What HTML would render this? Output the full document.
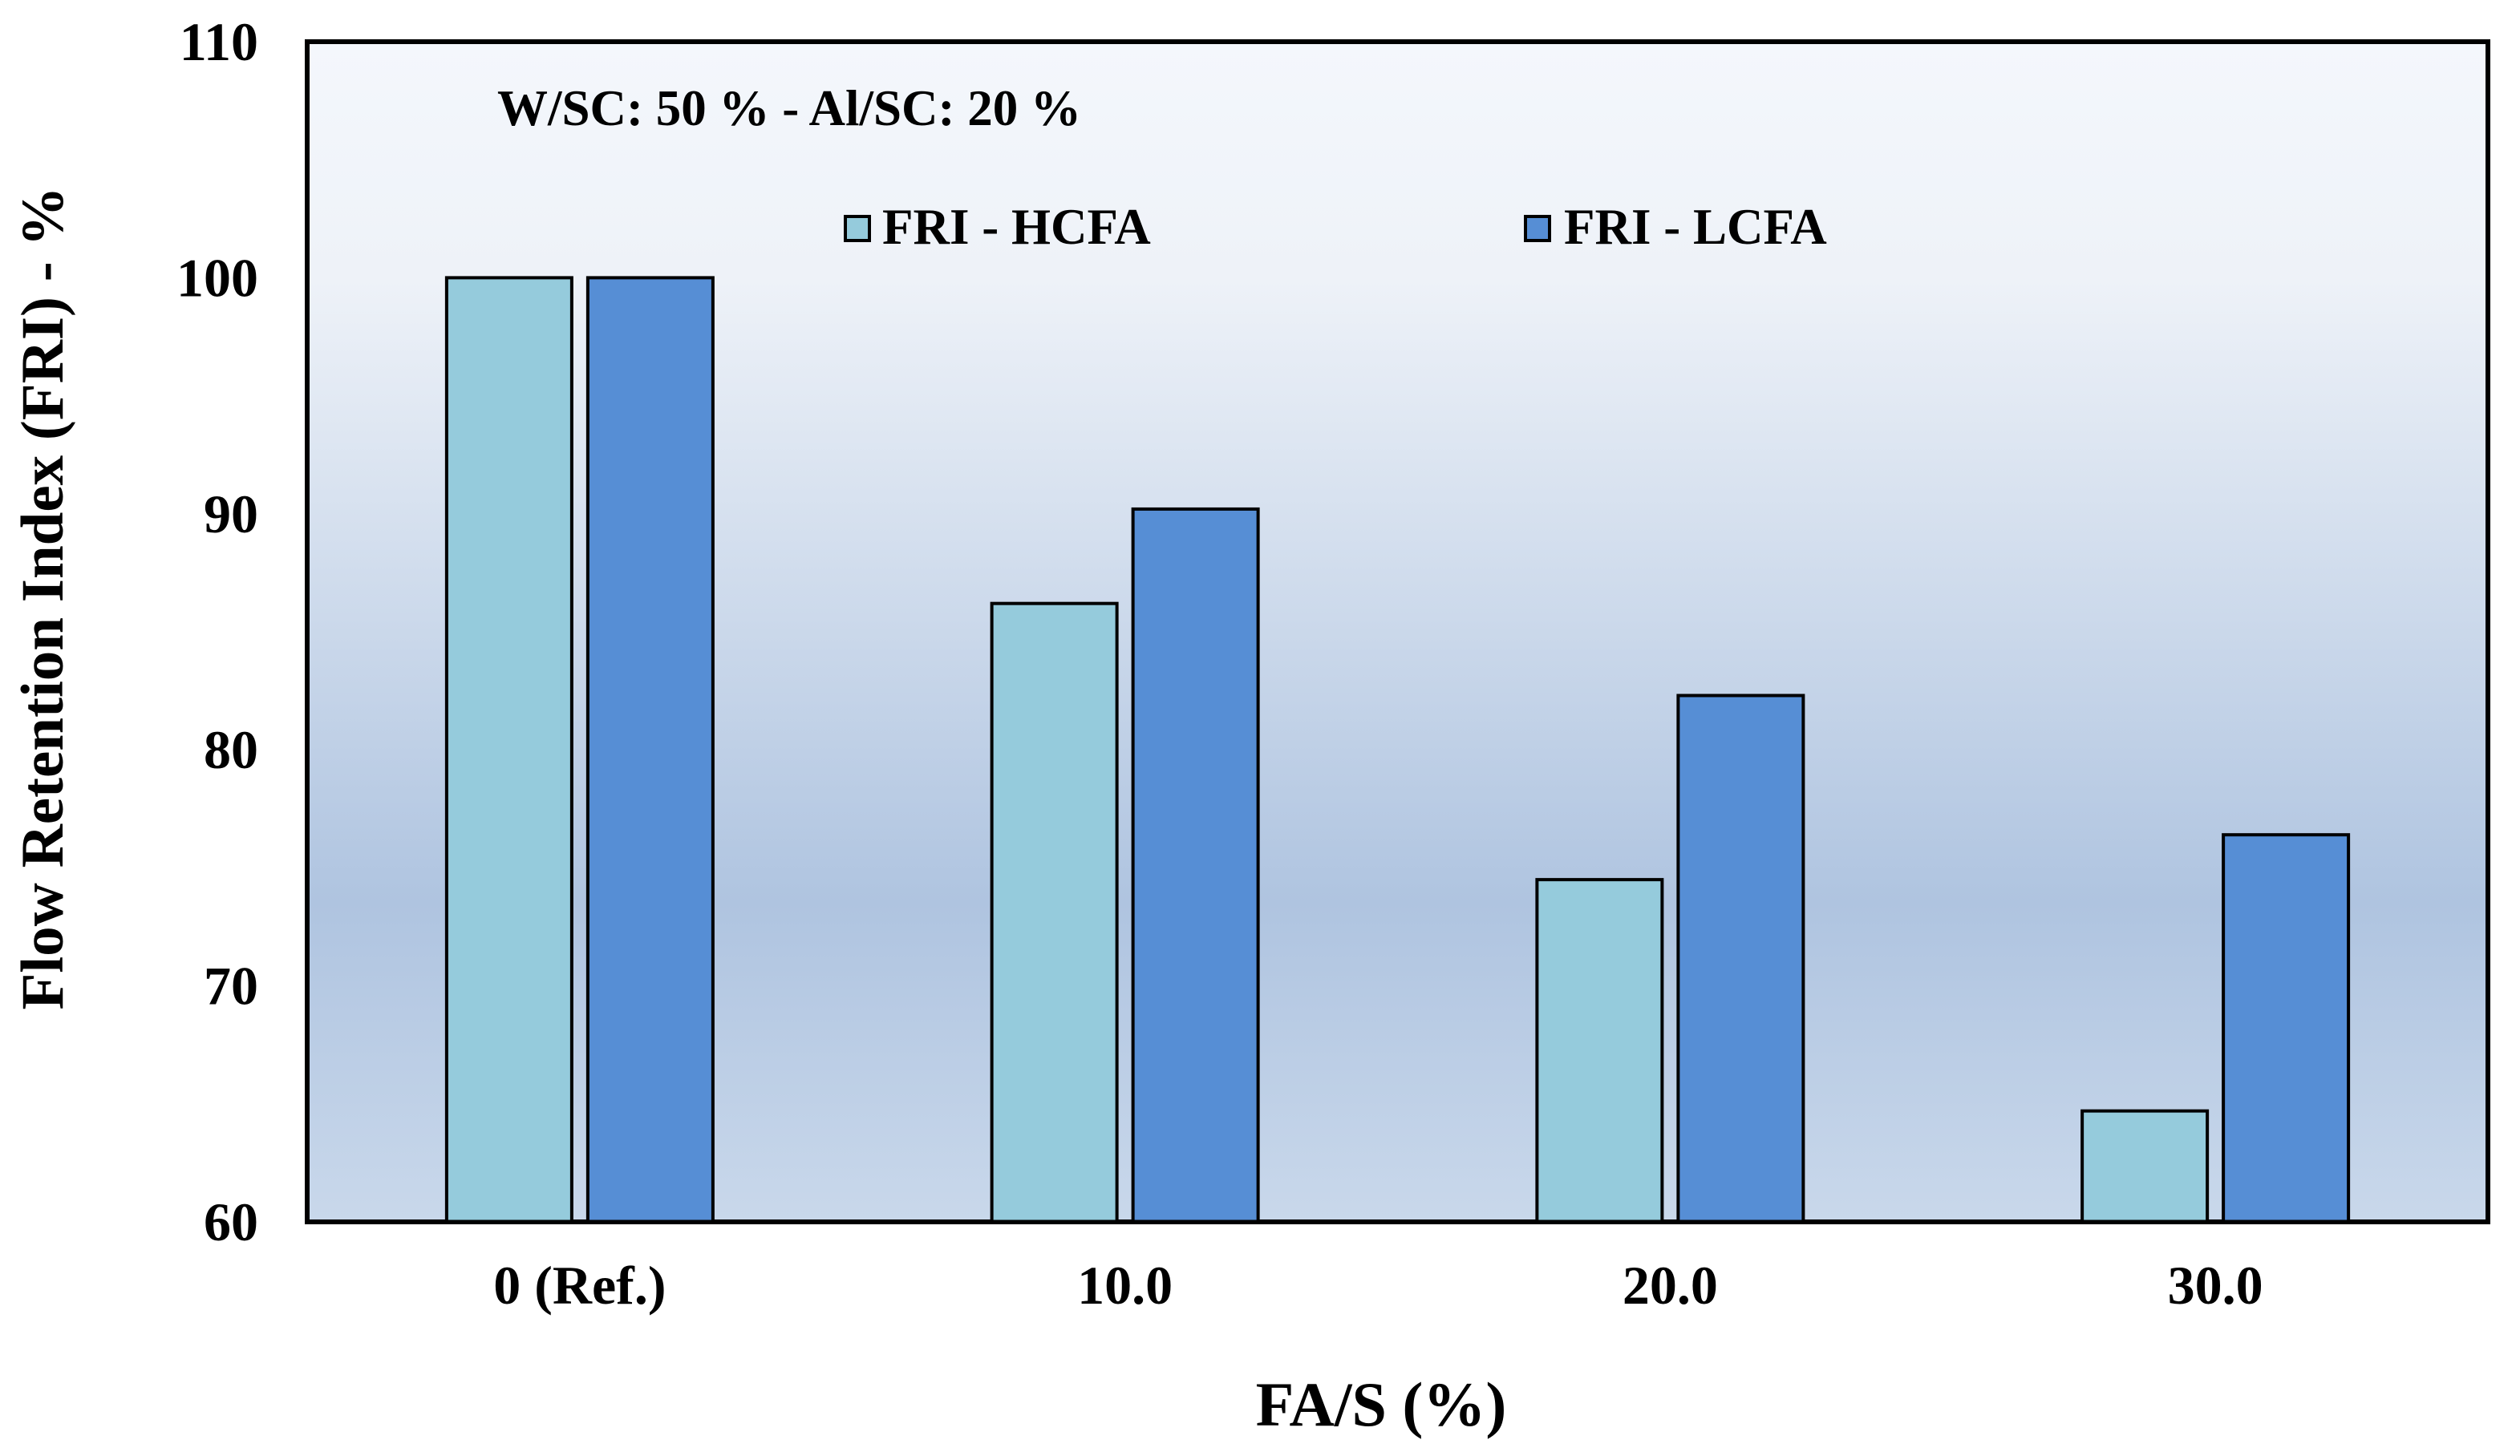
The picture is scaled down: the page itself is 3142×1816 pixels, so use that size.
<!DOCTYPE html>
<html><head><meta charset="utf-8"><style>
html,body{margin:0;padding:0;background:#fff}
svg text{font-family:"Liberation Serif",serif;font-weight:bold;fill:#000}
</style></head><body>
<svg id="chart" width="3142" height="1811" viewBox="0 0 3142 1811">
<defs>
<linearGradient id="bg" x1="0" y1="0" x2="0" y2="1">
<stop offset="0" stop-color="#f4f7fc"/>
<stop offset="0.2" stop-color="#eef2f8"/>
<stop offset="0.73" stop-color="#afc4e0"/>
<stop offset="1" stop-color="#c9d8eb"/>
</linearGradient>
</defs>
<rect x="383" y="52" width="2719" height="1472" fill="url(#bg)" stroke="#000" stroke-width="6"/>
<g id="bars"></g>
<line x1="383" y1="1524" x2="3102" y2="1524" stroke="#000" stroke-width="5"/>
<g id="yticks"></g>
<g id="xticks"></g>
<text x="620" y="156" font-size="63">W/SC: 50 % - Al/SC: 20 %</text>
<g>
<rect x="1054" y="270" width="30" height="30" fill="#95cbdc" stroke="#000" stroke-width="4"/>
<text x="1100" y="304" font-size="63">FRI - HCFA</text>
<rect x="1902" y="270" width="30" height="30" fill="#568ed5" stroke="#000" stroke-width="4"/>
<text x="1950" y="304" font-size="63">FRI - LCFA</text>
</g>
<text x="1722" y="1778" font-size="78" text-anchor="middle">FA/S (%)</text>
<text transform="translate(78,746) rotate(-90)" font-size="75" text-anchor="middle">Flow Retention Index (FRI) - %</text>
</svg>
<script>
const categories = ["0 (Ref.)", "10.0", "20.0", "30.0"];
const hcfaValues = [100, 86.2, 74.5, 64.7];
const lcfaValues = [100, 90.2, 82.3, 76.4];
const yTicks = [60, 70, 80, 90, 100, 110];

const NS = "http://www.w3.org/2000/svg";
const plotL = 383, plotR = 3102, plotT = 52, plotB = 1524;
const yMin = 60, yMax = 110;
function yScale(v){ return plotB - (v - yMin) / (yMax - yMin) * (plotB - plotT); }
const band = (plotR - plotL) / categories.length;
function xCenter(i){ return plotL + band * (i + 0.5); }
const barW = 156, gap = 20;

const barsG = document.getElementById('bars');
categories.forEach((c, i) => {
  const cx = xCenter(i);
  [[hcfaValues[i], "#95cbdc", cx - gap/2 - barW, "hcfa"], [lcfaValues[i], "#568ed5", cx + gap/2, "lcfa"]].forEach(([v, col, x, s]) => {
    const r = document.createElementNS(NS, 'rect');
    r.setAttribute('x', x);
    r.setAttribute('y', yScale(v));
    r.setAttribute('width', barW);
    r.setAttribute('height', plotB - yScale(v));
    r.setAttribute('fill', col);
    r.setAttribute('stroke', '#000');
    r.setAttribute('stroke-width', '4');
    
    
    barsG.appendChild(r);
  });
  const t = document.createElementNS(NS, 'text');
  t.setAttribute('x', cx);
  t.setAttribute('y', 1626);
  t.setAttribute('font-size', '68');
  t.setAttribute('text-anchor', 'middle');
  t.textContent = c;
  
  
  document.getElementById('xticks').appendChild(t);
});
yTicks.forEach(v => {
  const t = document.createElementNS(NS, 'text');
  t.setAttribute('x', 322);
  t.setAttribute('y', yScale(v) + 23);
  t.setAttribute('font-size', '68');
  t.setAttribute('text-anchor', 'end');
  t.textContent = v;
  
  
  document.getElementById('yticks').appendChild(t);
});
</script>
</body></html>
